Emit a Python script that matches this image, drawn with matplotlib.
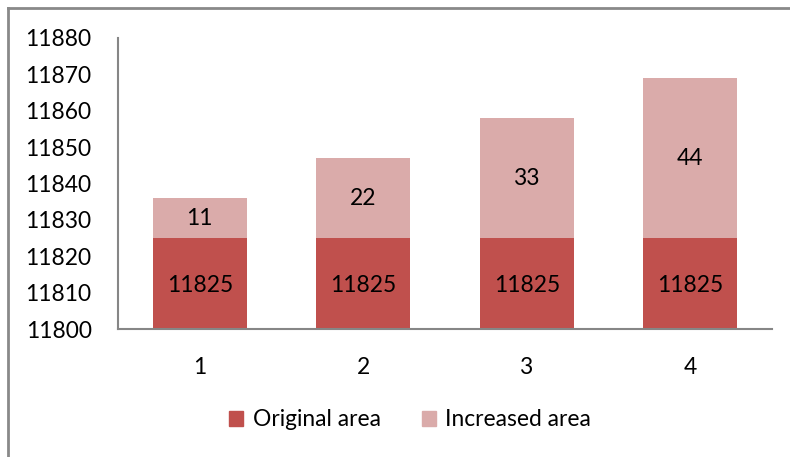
import matplotlib.pyplot as plt
import matplotlib.patches as mpatches
from matplotlib.lines import Line2D

categories = ["1", "2", "3", "4"]
original_area = [11825, 11825, 11825, 11825]
increased_area = [11, 22, 33, 44]
y_ticks = [11800, 11810, 11820, 11830, 11840, 11850, 11860, 11870, 11880]
series_names = ["Original area", "Increased area"]

plt.rcParams['font.family'] = ['Lato', 'DejaVu Sans']
FS = 16.4

fig = plt.figure(figsize=(7.9, 4.57), dpi=100)
W, H = 790, 457
ax = fig.add_axes([118 / W, 1 - 329 / H, (772 - 118) / W, (329 - 38) / H])

base = y_ticks[0]
x = list(range(len(categories)))
dark = '#C0504D'
light = '#DAABAA'
bw = 0.575
orig_h = [v - base for v in original_area]
ax.bar(x, orig_h, bottom=base, width=bw, color=dark, zorder=2)
ax.bar(x, increased_area, bottom=original_area, width=bw, color=light, zorder=2)

for i in x:
    ax.text(i, base + orig_h[i] / 2 - 0.6, str(original_area[i]), ha='center', va='center', fontsize=FS, color='black')
    ax.text(i, original_area[i] + increased_area[i] / 2, str(increased_area[i]), ha='center', va='center', fontsize=FS, color='black')

ax.set_xlim(-0.5, len(categories) - 0.5)
ax.set_ylim(y_ticks[0], y_ticks[-1])
ax.set_yticks(y_ticks)
ax.set_yticklabels([str(t) for t in y_ticks], fontsize=FS)
ax.set_xticks(x)
ax.set_xticklabels(categories, fontsize=FS)
ax.tick_params(axis='both', length=0)
ax.tick_params(axis='y', pad=19)
ax.tick_params(axis='x', pad=20)
for s in ['top', 'right']:
    ax.spines[s].set_visible(False)
for s in ['left', 'bottom']:
    ax.spines[s].set_color('#868686')
    ax.spines[s].set_linewidth(1.5)

handles = [mpatches.Patch(color=dark), mpatches.Patch(color=light)]
fig.legend(handles, series_names, loc='center', bbox_to_anchor=(410 / W, 1 - 420 / H),
           ncol=2, frameon=False, fontsize=FS, handlelength=0.65, handleheight=0.65,
           handletextpad=0.4, columnspacing=1.8)

# outer chart border (right and bottom lie outside the image)
fig.add_artist(Line2D([8 / W, 1.0], [1 - 8 / H, 1 - 8 / H], color='#898989', lw=2, transform=fig.transFigure))
fig.add_artist(Line2D([8 / W, 8 / W], [0, 1 - 8 / H], color='#898989', lw=2, transform=fig.transFigure))

fig.savefig('out.png', dpi=100)
